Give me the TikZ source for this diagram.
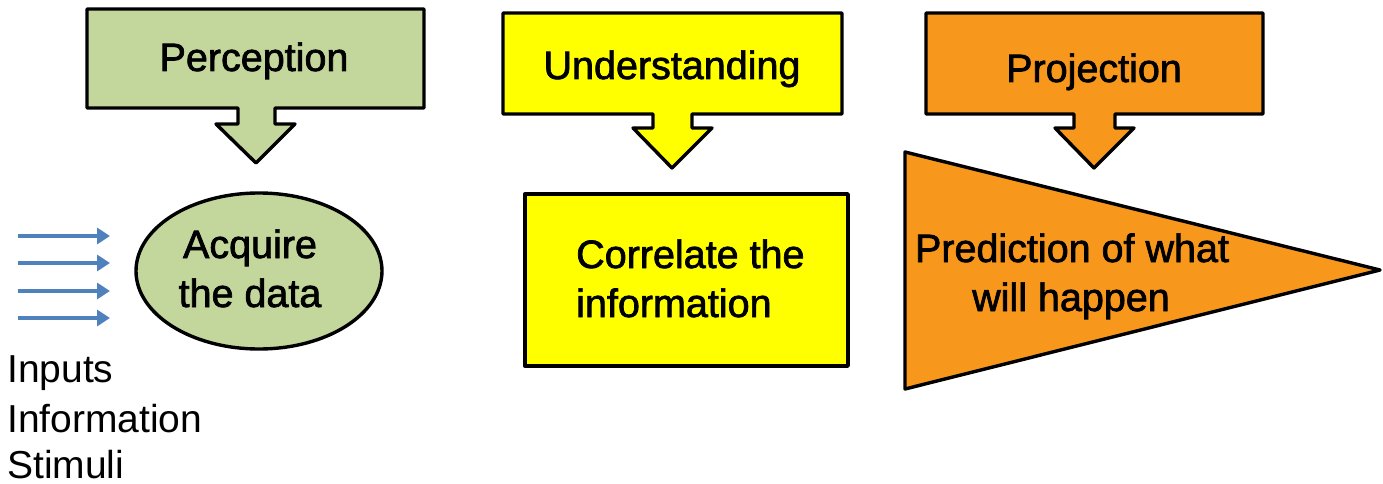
\documentclass[tikz,border=0pt]{standalone}
\usepackage{fontspec}
\setmainfont{Liberation Sans}
\newfontfamily\labelfont[FakeBold=1.8]{Liberation Sans}
\usetikzlibrary{arrows.meta}
\definecolor{pgreen}{HTML}{C3D69B}
\definecolor{pyellow}{HTML}{FFFF00}
\definecolor{porange}{HTML}{F7981D}
\definecolor{pblue}{HTML}{4F81BD}
\tikzset{
  shapeline/.style={draw=black, line width=3.4pt, line join=round},
  lbl/.style={inner sep=0pt, anchor=base, font=\labelfont\fontsize{39.5}{46}\selectfont},
  lblleft/.style={lbl, anchor=base west},
  plain/.style={inner sep=0pt, anchor=base west, font=\fontsize{39}{46}\selectfont},
  inarrow/.style={draw=pblue, line width=4.5pt, -{Triangle[length=13pt,width=16pt]}}
}
\begin{document}
\begin{tikzpicture}[x=1pt,y=-1pt]
\useasboundingbox (0,0) rectangle (1383,484);
% Perception callout
\path[shapeline, fill=pgreen] (87,9) -- (424,9) -- (424,108) -- (275,108) -- (275,124) -- (295,124)
  -- (256,163) -- (216,124) -- (238,124) -- (238,108) -- (87,108) -- cycle;
\node[lbl] (perc) at (254,71) {Perception};
% Understanding callout
\path[shapeline, fill=pyellow] (503,13) -- (842,13) -- (842,114) -- (692,114) -- (692,128) -- (712,128)
  -- (672,168) -- (633,128) -- (653,128) -- (653,114) -- (503,114) -- cycle;
\node[lbl] (und) at (672,79) {Understanding};
% Projection callout
\path[shapeline, fill=porange] (926,13) -- (1263,13) -- (1263,114) -- (1115,114) -- (1115,128) -- (1134,128)
  -- (1094,168) -- (1055,128) -- (1074,128) -- (1074,114) -- (926,114) -- cycle;
\node[lbl] (proj) at (1094,82) {Projection};
% Acquire ellipse
\path[shapeline, fill=pgreen] (259,271) ellipse [x radius=123, y radius=78];
\node[lbl] (acq1) at (250,258) {Acquire};
\node[lbl] (acq2) at (250,307) {the data};
% Correlate box
\path[shapeline, fill=pyellow] (525,194) rectangle (848,366);
\node[lblleft] (cor1) at (576,268) {Correlate the};
\node[lblleft] (cor2) at (576,317) {information};
% Prediction triangle
\path[shapeline, fill=porange] (905,152) -- (1380,270) -- (905,389) -- cycle;
\node[lbl] (pred1) at (1072,262) {Prediction of what};
\node[lbl] (pred2) at (1071,311) {will happen};
% input arrows
\coordinate (a1s) at (18,236); \coordinate (a1e) at (110,236);
\coordinate (a2s) at (18,263); \coordinate (a2e) at (110,263);
\coordinate (a3s) at (18,291); \coordinate (a3e) at (110,291);
\coordinate (a4s) at (18,318); \coordinate (a4e) at (110,318);
\draw[inarrow] (a1s) -- (a1e);
\draw[inarrow] (a2s) -- (a2e);
\draw[inarrow] (a3s) -- (a3e);
\draw[inarrow] (a4s) -- (a4e);
% left labels
\node[plain] (inp) at (7,382) {Inputs};
\node[plain] (inf) at (7,432) {Information};
\node[plain] (sti) at (7,478) {Stimuli};
\end{tikzpicture}
\end{document}
